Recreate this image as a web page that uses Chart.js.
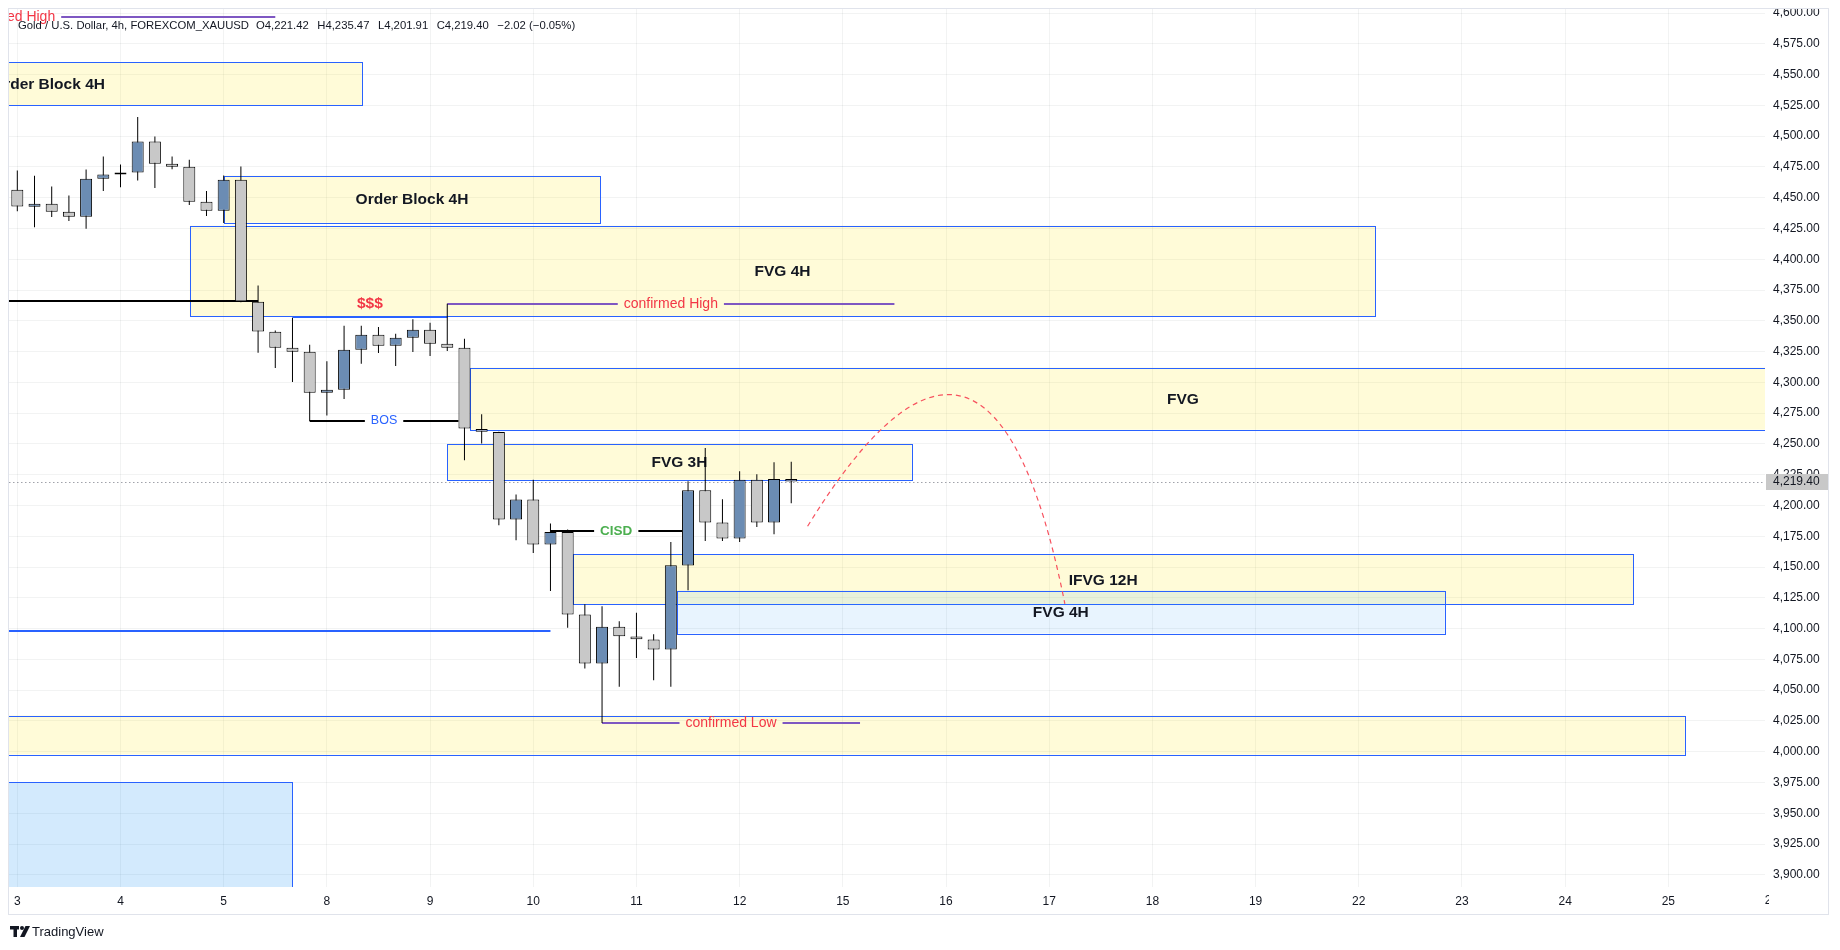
<!DOCTYPE html>
<html><head><meta charset="utf-8">
<script src="https://cdn.jsdelivr.net/npm/chart.js@4.4.1/dist/chart.umd.min.js"></script>
<style>html,body{margin:0;padding:0;background:#fff;overflow:hidden;}canvas{display:block;}</style>
</head><body>
<canvas id="c" width="1840" height="950"></canvas>
<script>
// ---------- DATA ----------
const symbolTitle = 'Gold / U.S. Dollar, 4h, FOREXCOM_XAUUSD';
const dayLabels = ['3','4','5','8','9','10','11','12','15','16','17','18','19','22','23','24','25','26'];
const barsPerDay = 6;
const opens  = [4456.5,4442.7,4445.1,4438.6,4434.5,4465.4,4468.9,4470.5,4495.7,4477.6,4475.1,4446.7,4439.4,4464.6,4365.5,4341.2,4328.2,4324.9,4291.6,4294.1,4326.5,4338.7,4329.8,4336.3,4342.8,4331.4,4328.2,4262.2,4259.7,4188.6,4204.8,4168.3,4178.5,4111.4,4071.6,4101.4,4093.5,4091.1,4083.0,4151.2,4212.4,4186.1,4173.1,4221.0,4186.1,4221.42];
const highs  = [4472.2,4467.8,4459.2,4451.9,4473.0,4483.5,4477.0,4515.5,4499.8,4483.5,4480.8,4455.4,4468.0,4475.4,4378.8,4342.2,4352.5,4330.6,4317.1,4346.0,4346.0,4345.0,4339.5,4351.2,4348.5,4363.9,4335.5,4274.1,4260.0,4208.9,4221.0,4185.3,4180.4,4119.8,4118.2,4106.0,4112.8,4095.5,4170.4,4219.7,4246.8,4205.1,4227.8,4225.4,4235.1,4235.47];
const lows   = [4439.1,4426.1,4434.3,4431.0,4424.8,4455.4,4458.6,4464.0,4457.8,4473.2,4444.0,4435.1,4429.4,4365.0,4324.1,4311.7,4300.3,4268.6,4273.0,4286.5,4315.2,4323.8,4313.3,4324.6,4321.4,4325.5,4236.7,4250.3,4184.0,4171.8,4161.5,4130.6,4100.6,4067.6,4023.4,4052.7,4076.2,4058.1,4052.7,4131.2,4171.2,4171.2,4170.4,4182.6,4176.6,4201.91];
const closes = [4442.9,4445.1,4438.6,4434.5,4465.4,4468.9,4470.5,4495.7,4477.6,4475.1,4446.7,4439.4,4464.6,4365.8,4341.4,4328.2,4324.9,4291.6,4294.1,4326.5,4338.7,4329.8,4336.3,4342.8,4331.4,4328.2,4262.5,4260.0,4188.6,4204.8,4168.3,4178.5,4111.4,4071.6,4101.4,4093.8,4091.4,4083.0,4151.5,4212.4,4186.1,4173.1,4221.0,4186.1,4221.42,4219.40];
const priceTicks = [3900,3925,3950,3975,4000,4025,4050,4075,4100,4125,4150,4175,4200,4225,4250,4275,4300,4325,4350,4375,4400,4425,4450,4475,4500,4525,4550,4575,4600];

// zones (bar index range, price range)
const zoneLabels = ['Order Block 4H','Order Block 4H','FVG 4H','FVG','FVG 3H','IFVG 12H','FVG 4H','',''];
const zoneKind   = ['supply','supply','supply','supply','supply','supply','demandLight','supply','demand'];
const zoneFrom   = [-16.4, 12, 10.03, 26.35, 25, 32.3, 38.35, -20, -20];
const zoneTo     = [20.03, 33.9, 78.95, 109.2, 52, 93.97, 83.0, 96.96, 16.0];
const zoneHigh   = [4560.1, 4467.9, 4427.3, 4312.0, 4250.3, 4160.2, 4130.9, 4029.4, 3975.0];
const zoneLow    = [4525.0, 4429.7, 4353.6, 4261.6, 4221.0, 4119.9, 4096.0, 3997.7, 3850.0];

// horizontal levels
const lineLabels = ['confirmed High','','$$$','confirmed High','BOS','CISD','confirmed Low',''];
const lineKind   = ['pivot','level','sweep','pivot','bos','cisd','pivot','range'];
const lineFrom   = [-16.07, -20, 16, 25, 17, 31, 34, -20];
const lineTo     = [15, 14, 25, 51, 25.65, 38.65, 49, 31];
const linePrice  = [4596.5, 4366.5, 4352.8, 4363.5, 4268.6, 4179.3, 4023.4, 4098.1];

// projected path (start, control, end)
const pathIdx   = [45.95, 56.59, 60.91];
const pathPrice = [4183.1, 4425.0, 4120.1];

// ---------- STYLE ----------
const FONT = '"Liberation Sans", Arial, sans-serif';
const TXT = '#131722';
const GRID = 'rgba(42,46,57,0.06)';
const UP = '#6b8cb3', DOWN = '#c8c8c8';
const zoneStyle = {
  supply: 'rgba(255,235,59,0.2)',
  demandLight: 'rgba(33,150,243,0.1)',
  demand: 'rgba(33,150,243,0.2)'
};
const lineStyle = {
  pivot: {line:'#7e57c2', width:2, text:'#f23645', font:'14px '+FONT, mode:'gap'},
  level: {line:'#000000', width:2},
  sweep: {line:'#2962ff', width:2, text:'#f23645', font:'bold 15.5px '+FONT, mode:'above'},
  bos:   {line:'#000000', width:2, text:'#2962ff', font:'12.5px '+FONT, mode:'gap'},
  cisd:  {line:'#000000', width:2, text:'#4caf50', font:'bold 13.5px '+FONT, mode:'gap'},
  range: {line:'#2962ff', width:2}
};
const fmt = v => v.toLocaleString('en-US', {minimumFractionDigits:2, maximumFractionDigits:2});
const noPad = s => { s.paddingTop = 0; s.paddingBottom = 0; s.paddingLeft = 0; s.paddingRight = 0; };

const overlay = {
  id: 'overlay',
  beforeDatasetsDraw(chart) {
    const {ctx, chartArea: a, scales: {x, y}} = chart;
    ctx.save();
    ctx.beginPath(); ctx.rect(a.left, a.top, a.right - a.left, a.bottom - a.top); ctx.clip();
    // zones
    for (let k = 0; k < zoneLabels.length; k++) {
      const x0 = x.getPixelForValue(zoneFrom[k]), x1 = x.getPixelForValue(zoneTo[k]);
      const y0 = y.getPixelForValue(zoneHigh[k]), y1 = y.getPixelForValue(zoneLow[k]);
      ctx.fillStyle = zoneStyle[zoneKind[k]];
      ctx.fillRect(x0, y0, x1 - x0, y1 - y0);
      ctx.strokeStyle = '#2962ff'; ctx.lineWidth = 1; ctx.setLineDash([]);
      const rx = Math.round(x0) + 0.5, ry = Math.round(y0) + 0.5;
      ctx.strokeRect(rx, ry, Math.round(x1) - Math.round(x0), Math.round(y1) - Math.round(y0));
    }
    for (let k = 0; k < zoneLabels.length; k++) {
      if (!zoneLabels[k]) continue;
      const x0 = x.getPixelForValue(zoneFrom[k]), x1 = x.getPixelForValue(zoneTo[k]);
      const y0 = y.getPixelForValue(zoneHigh[k]), y1 = y.getPixelForValue(zoneLow[k]);
      ctx.fillStyle = '#131722'; ctx.font = 'bold 15.5px ' + FONT;
      ctx.textAlign = 'center'; ctx.textBaseline = 'middle';
      ctx.fillText(zoneLabels[k], (x0 + x1) / 2, (y0 + y1) / 2 + 1);
    }
    // levels
    const seg = (xa, xb, yy) => { ctx.beginPath(); ctx.moveTo(xa, yy); ctx.lineTo(xb, yy); ctx.stroke(); };
    for (let k = 0; k < lineLabels.length; k++) {
      const st = lineStyle[lineKind[k]];
      const x0 = x.getPixelForValue(lineFrom[k]), x1 = x.getPixelForValue(lineTo[k]);
      const yy = Math.round(y.getPixelForValue(linePrice[k]));
      ctx.strokeStyle = st.line; ctx.lineWidth = st.width; ctx.setLineDash([]);
      const label = lineLabels[k];
      const cx = (x0 + x1) / 2;
      ctx.textAlign = 'center'; ctx.textBaseline = 'middle';
      if (label && st.mode === 'gap') {
        ctx.font = st.font;
        const w = ctx.measureText(label).width;
        seg(x0, cx - w / 2 - 6, yy); seg(cx + w / 2 + 6, x1, yy);
        ctx.fillStyle = st.text; ctx.fillText(label, cx, yy);
      } else {
        seg(x0, x1, yy);
        if (label) { ctx.font = st.font; ctx.fillStyle = st.text; ctx.fillText(label, cx, yy - 13); }
      }
    }
    // projected path
    ctx.strokeStyle = '#f7525f'; ctx.lineWidth = 1.2; ctx.setLineDash([5, 4]);
    ctx.beginPath();
    ctx.moveTo(x.getPixelForValue(pathIdx[0]), y.getPixelForValue(pathPrice[0]));
    ctx.quadraticCurveTo(x.getPixelForValue(pathIdx[1]), y.getPixelForValue(pathPrice[1]),
                         x.getPixelForValue(pathIdx[2]), y.getPixelForValue(pathPrice[2]));
    ctx.stroke();
    // last price dotted line
    const last = closes[closes.length - 1];
    const ly = Math.round(y.getPixelForValue(last)) + 0.5;
    ctx.strokeStyle = 'rgba(120,123,134,0.7)'; ctx.lineWidth = 1; ctx.setLineDash([1.5, 2.5]);
    seg(a.left, a.right, ly);
    ctx.restore();
  },
  afterDraw(chart) {
    const {ctx, chartArea: a, scales: {x, y}} = chart;
    ctx.save();
    // clip anything above the pane
    ctx.fillStyle = '#ffffff'; ctx.fillRect(0, 0, 1840, 9);
    // partial last day label
    ctx.save();
    ctx.beginPath(); ctx.rect(a.left, a.bottom, a.right - a.left + 4, 30); ctx.clip();
    ctx.fillStyle = TXT; ctx.font = '12px ' + FONT; ctx.textAlign = 'center'; ctx.textBaseline = 'middle';
    const lastDay = dayLabels.length - 1;
    if (lastDay * barsPerDay > x.max) ctx.fillText(dayLabels[lastDay], x.getPixelForValue(lastDay * barsPerDay), 901);
    ctx.restore();
    // last price label
    const last = closes[closes.length - 1];
    const ly = y.getPixelForValue(last);
    ctx.fillStyle = DOWN;
    ctx.fillRect(a.right + 1, Math.round(ly) - 8, 62, 16);
    ctx.fillStyle = TXT; ctx.font = '12px ' + FONT; ctx.textAlign = 'left'; ctx.textBaseline = 'middle';
    ctx.fillText(fmt(last), a.right + 8, ly + 0.5);
    // header legend
    const n = closes.length - 1;
    const chg = closes[n] - closes[n - 1];
    const pct = chg / closes[n - 1] * 100;
    const sgn = v => (v < 0 ? '\u2212' : '+') + Math.abs(v).toFixed(2);
    const parts = [symbolTitle, 'O' + fmt(opens[n]), 'H' + fmt(highs[n]), 'L' + fmt(lows[n]), 'C' + fmt(closes[n]), sgn(chg) + ' (' + sgn(pct) + '%)'];
    ctx.font = '11.3px ' + FONT; ctx.fillStyle = TXT; ctx.textBaseline = 'middle';
    let hx = 18;
    parts.forEach((p, i) => { ctx.fillText(p, hx, 25.5); hx += ctx.measureText(p).width + (i === 0 ? 7 : 8.5); });
    // container border
    ctx.strokeStyle = '#e0e3eb'; ctx.lineWidth = 1; ctx.setLineDash([]);
    ctx.strokeRect(8.5, 8.5, 1820, 906);
    // logo
    ctx.fillStyle = TXT;
    ctx.fillRect(10, 926, 9, 3.5);
    ctx.fillRect(13.5, 926, 3.5, 11);
    ctx.beginPath(); ctx.arc(22, 928, 2, 0, Math.PI * 2); ctx.fill();
    ctx.beginPath(); ctx.moveTo(25.5, 926); ctx.lineTo(30, 926); ctx.lineTo(24.5, 937); ctx.lineTo(20, 937); ctx.closePath(); ctx.fill();
    ctx.font = '13px ' + FONT; ctx.textAlign = 'left'; ctx.textBaseline = 'middle';
    ctx.fillText('TradingView', 32, 932);
    ctx.restore();
  }
};

const chart = new Chart(document.getElementById('c'), {
  type: 'bar',
  data: {
    datasets: [
      { label: 'wick', data: highs.map((h, i) => ({x: i, y: [lows[i], h]})),
        backgroundColor: '#000000', borderWidth: 0, grouped: false, maxBarThickness: 1, inflateAmount: 0, order: 2 },
      { label: 'body', data: opens.map((o, i) => ({x: i, y: [o, closes[i]]})),
        backgroundColor: opens.map((o, i) => closes[i] >= o ? UP : DOWN),
        borderColor: '#000000', borderWidth: 1, borderSkipped: false, grouped: false, maxBarThickness: 12, inflateAmount: 0, order: 1 }
    ]
  },
  options: {
    responsive: false, animation: false, devicePixelRatio: 1, events: [],
    layout: { padding: { left: 9, top: 9, right: 11, bottom: 35 } },
    plugins: { legend: { display: false }, tooltip: { enabled: false } },
    scales: {
      x: {
        type: 'linear', min: -0.483, max: 101.62, offset: false,
        grid: { color: GRID, drawTicks: false, offset: false },
        border: { display: false },
        afterBuildTicks: s => { s.ticks = dayLabels.map((_, k) => ({value: k * barsPerDay})).filter(t => t.value <= s.max); },
        afterFit: s => { s.height = 28; noPad(s); },
        ticks: { autoSkip: false, maxRotation: 0, minRotation: 0, padding: 7, color: TXT, font: { family: FONT, size: 12 },
                 callback: v => dayLabels[Math.round(v / barsPerDay)] }
      },
      y: {
        type: 'linear', position: 'right', min: 3890.1, max: 4603.3,
        grid: { color: GRID, drawTicks: false },
        border: { display: false },
        afterBuildTicks: s => { s.ticks = priceTicks.map(v => ({value: v})); },
        afterFit: s => { s.width = 64; noPad(s); },
        ticks: { autoSkip: false, padding: 8, color: TXT, font: { family: FONT, size: 12 }, callback: v => fmt(v) }
      }
    }
  },
  plugins: [overlay]
});
</script>
</body></html>
